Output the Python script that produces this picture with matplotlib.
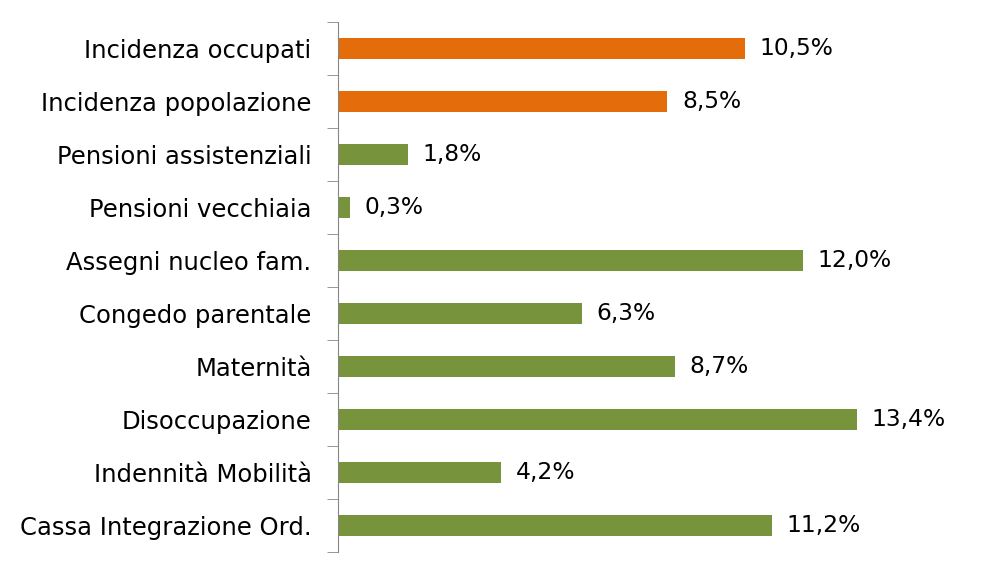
import matplotlib.pyplot as plt
import numpy as np

# bottom to top
categories = ['Cassa Integrazione Ord.', 'Indennità Mobilità', 'Disoccupazione',
              'Maternità', 'Congedo parentale', 'Assegni nucleo fam.',
              'Pensioni vecchiaia', 'Pensioni assistenziali',
              'Incidenza popolazione', 'Incidenza occupati']
values = [11.2, 4.2, 13.4, 8.7, 6.3, 12.0, 0.3, 1.8, 8.5, 10.5]
colors = ['#77933C'] * 8 + ['#E46C0A'] * 2

fig = plt.figure(figsize=(9.81, 5.76), dpi=100)
ax = fig.add_axes([0.3445, 0.0417, 0.62, 0.9201])

y = np.arange(len(categories))
ax.barh(y, values, height=0.38, color=colors)

for yi, v in zip(y, values):
    ax.text(v + 0.38, yi, ('%.1f%%' % v).replace('.', ','), va='center',
            ha='left', fontsize=16.8, color='black')

ax.set_ylim(-0.5, len(categories) - 0.5)
ax.set_xlim(0, 15.7)
ax.set_yticks(y)
ax.set_yticklabels(categories, fontsize=17.5)
ax.set_yticks(np.arange(-0.5, len(categories)), minor=True)
ax.tick_params(axis='y', which='major', length=0, pad=19)
ax.tick_params(axis='y', which='minor', length=8, color='#868686', direction='out')
ax.set_xticks([])
for s in ['top', 'right', 'bottom']:
    ax.spines[s].set_visible(False)
ax.spines['left'].set_color('#868686')

fig.savefig('out.png', dpi=100)
